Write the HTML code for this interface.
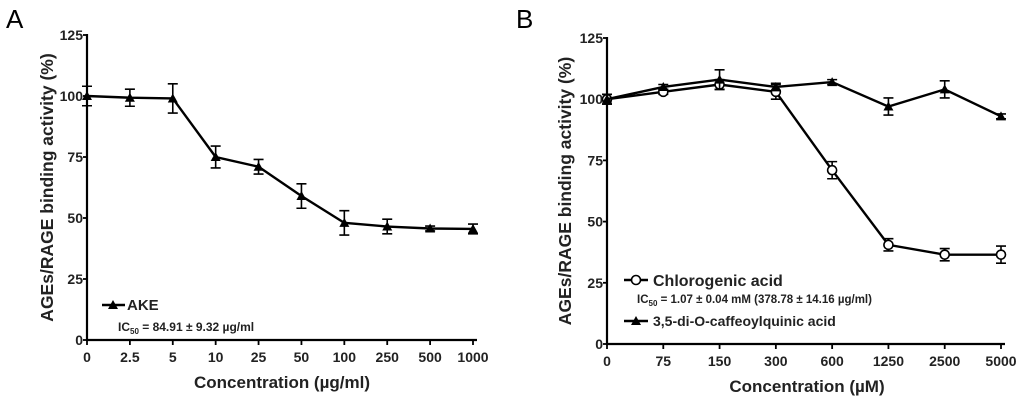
<!DOCTYPE html>
<html><head><meta charset="utf-8"><style>
body{margin:0;background:#fff;}
svg{display:block;font-family:"Liberation Sans",Arial,sans-serif;}
</style></head><body>
<svg id="c" width="1024" height="402" viewBox="0 0 1024 402"></svg>
<script>
const catsA=["0","2.5","5","10","25","50","100","250","500","1000"];
const akeVals=[100,99.3,99,75,71,59,48,46.5,45.7,45.5];
const akeErr=[4,3.5,6,4.5,3,5,5,3,1,2];
const catsB=["0","75","150","300","600","1250","2500","5000"];
const chloVals=[100,103,106,103,71,40.5,36.5,36.5];
const chloErr=[2,1,2,3,3.5,2.5,2.5,3.5];
const dicqVals=[100,105,108,105,107,97,104,93];
const dicqErr=[2,1,4,1.5,1,3.5,3.5,1];
const yTicks=[0,25,50,75,100,125];

const svg=document.getElementById('c');
const NS="http://www.w3.org/2000/svg";
function mk(tag,attrs,parent,name,text){
  const e=document.createElementNS(NS,tag);
  for(const k in attrs)e.setAttribute(k,attrs[k]);
  
  
  if(text!==undefined)e.textContent=text;
  (parent||svg).appendChild(e);return e;
}
function tri(g,x,y,name){mk('polygon',{points:`${x-5},${y+4} ${x+5},${y+4} ${x},${y-5}`,fill:'#000'},g,name);}
function circ(g,x,y,name){mk('circle',{cx:x,cy:y,r:4.5,fill:'#fff',stroke:'#000','stroke-width':1.6},g,name);}

function panel(p){
  const g=mk('g',{},svg,p.id);
  const ys=v=>p.y0-(v/125)*(p.y0-p.y125);
  const xs=i=>p.x0+i*(p.x1-p.x0)/(p.cats.length-1);
  mk('text',{x:p.letterX,y:28,'font-size':26},g,'panel-letter',p.letter);
  mk('line',{x1:p.x0,y1:p.y125-1,x2:p.x0,y2:p.y0+1,stroke:'#000','stroke-width':2.2},g,'y-axis');
  mk('line',{x1:p.x0-1,y1:p.y0,x2:p.x1+4,y2:p.y0,stroke:'#000','stroke-width':2.2},g,'x-axis');
  yTicks.forEach(t=>{const y=ys(t);
    mk('line',{x1:p.x0-4,y1:y,x2:p.x0,y2:y,stroke:'#000','stroke-width':1.8},g,'y-tick');
    mk('text',{x:p.x0-4,y:y+5,'font-size':14,'font-weight':'bold','text-anchor':'end',fill:'#222'},g,'y-tick-label',t);});
  p.cats.forEach((c,i)=>{const x=xs(i);
    mk('line',{x1:x,y1:p.y0,x2:x,y2:p.y0+5,stroke:'#000','stroke-width':1.8},g,'x-tick');
    mk('text',{x:x,y:p.y0+22,'font-size':14,'font-weight':'bold','text-anchor':'middle',fill:'#222'},g,'x-tick-label',c);});
  mk('text',{x:0,y:0,'font-size':17.5,'font-weight':'bold','text-anchor':'middle',fill:'#222',transform:`translate(${p.ytX},${(p.y0+p.y125)/2}) rotate(-90)`},g,'y-axis-title','AGEs/RAGE binding activity (%)');
  mk('text',{x:p.xtX,y:p.xtY,'font-size':17,'font-weight':'bold','text-anchor':'middle',fill:'#222'},g,'x-axis-title',p.xTitle);
  p.series.forEach(s=>{
    const sg=mk('g',{},g,s.name);
    mk('polyline',{points:s.vals.map((v,i)=>xs(i)+','+ys(v)).join(' '),fill:'none',stroke:'#000','stroke-width':2.4},sg,s.name+'-line');
    s.vals.forEach((v,i)=>{const x=xs(i),a=ys(v+s.err[i]),b=ys(v-s.err[i]);
      mk('path',{d:`M${x},${a}V${b}M${x-5},${a}H${x+5}M${x-5},${b}H${x+5}`,stroke:'#000','stroke-width':1.6,fill:'none'},sg,'error-bar');
      if(s.mark==='tri')tri(sg,x,ys(v),'point');else circ(sg,x,ys(v),'point');});
  });
}
panel({id:'panel-a',letter:'A',letterX:6,x0:87,x1:473,y0:340,y125:35,cats:catsA,ytX:53,xtX:282,xtY:388,
  xTitle:'Concentration (\u00b5g/ml)',series:[{name:'ake-series',vals:akeVals,err:akeErr,mark:'tri'}]});
panel({id:'panel-b',letter:'B',letterX:516,x0:607,x1:1001,y0:344,y125:38,cats:catsB,ytX:571,xtX:807,xtY:392,
  xTitle:'Concentration (\u00b5M)',series:[{name:'chlorogenic-series',vals:chloVals,err:chloErr,mark:'circ'},{name:'dicq-series',vals:dicqVals,err:dicqErr,mark:'tri'}]});

const la=mk('g',{},svg,'legend-a');
mk('line',{x1:102,y1:305,x2:125,y2:305,stroke:'#000','stroke-width':2.4},la,'legend-line');
tri(la,113,305,'legend-marker');
mk('text',{x:127,y:310,'font-size':15,'font-weight':'bold',fill:'#222'},la,'legend-label','AKE');
mk('text',{x:118,y:331,'font-size':12,'font-weight':'bold',fill:'#222'},la,'ic50-note').innerHTML='IC<tspan font-size="8" dy="3">50</tspan><tspan dy="-3"> = 84.91 \u00b1  9.32 \u00b5g/ml</tspan>';
const lb=mk('g',{},svg,'legend-b');
mk('line',{x1:624,y1:280,x2:648,y2:280,stroke:'#000','stroke-width':2.4},lb,'legend-line');
circ(lb,636,280,'legend-marker');
mk('text',{x:653,y:286,'font-size':16,'font-weight':'bold',fill:'#222'},lb,'legend-label','Chlorogenic acid');
mk('text',{x:637,y:303,'font-size':11.5,'font-weight':'bold',fill:'#222'},lb,'ic50-note').innerHTML='IC<tspan font-size="8" dy="3">50</tspan><tspan dy="-3"> = 1.07 \u00b1  0.04 mM (378.78 \u00b1  14.16 \u00b5g/ml)</tspan>';
mk('line',{x1:624,y1:321,x2:648,y2:321,stroke:'#000','stroke-width':2.4},lb,'legend-line');
tri(lb,636,321,'legend-marker');
mk('text',{x:653,y:326,'font-size':14,'font-weight':'bold',fill:'#222'},lb,'legend-label','3,5-di-O-caffeoylquinic acid');
</script>
</body></html>
